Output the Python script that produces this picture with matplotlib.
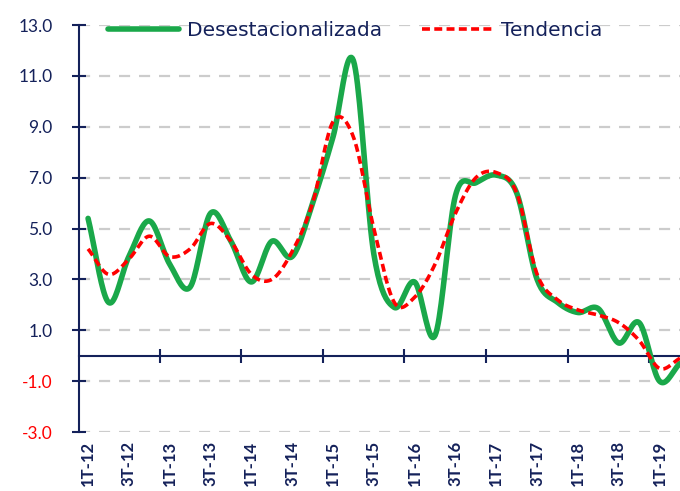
import numpy as np
import matplotlib
matplotlib.use("Agg")
import matplotlib.pyplot as plt

periods = ["1T-12","2T-12","3T-12","4T-12","1T-13","2T-13","3T-13","4T-13",
           "1T-14","2T-14","3T-14","4T-14","1T-15","2T-15","3T-15","4T-15",
           "1T-16","2T-16","3T-16","4T-16","1T-17","2T-17","3T-17","4T-17",
           "1T-18","2T-18","3T-18","4T-18","1T-19","2T-19"]
desest = [5.4, 2.1, 3.9, 5.3, 3.6, 2.7, 5.6, 4.5,
          2.9, 4.5, 3.9, 6.0, 8.6, 11.6, 4.0, 1.9,
          2.9, 0.8, 6.3, 6.8, 7.1, 6.4, 3.0, 2.1,
          1.7, 1.85, 0.5, 1.3, -1.0, -0.3]
tendencia = [4.2, 3.2, 3.8, 4.7, 3.9, 4.2, 5.2, 4.5,
             3.2, 3.0, 4.1, 6.0, 9.2, 8.6, 5.0, 2.1,
             2.3, 3.6, 5.6, 7.0, 7.2, 6.4, 3.2, 2.2,
             1.8, 1.6, 1.3, 0.6, -0.5, -0.1]
yticks = [-3, -1, 1, 3, 5, 7, 9, 11, 13]

NAVY = "#14215a"
GREEN = "#1aa84a"
RED = "#ff0000"

def smooth(y, n=20):
    y = np.asarray(y, float)
    x = np.arange(len(y), dtype=float)
    p = np.concatenate([[2*y[0]-y[1]], y, [2*y[-1]-y[-2]]])
    xs, ys = [], []
    for i in range(len(y)-1):
        p0, p1, p2, p3 = p[i], p[i+1], p[i+2], p[i+3]
        t = np.linspace(0, 1, n, endpoint=False)
        yy = 0.5*((2*p1) + (-p0+p2)*t + (2*p0-5*p1+4*p2-p3)*t**2 + (-p0+3*p1-3*p2+p3)*t**3)
        xs.append(x[i] + t)
        ys.append(yy)
    xs.append([x[-1]]); ys.append([y[-1]])
    return np.concatenate(xs), np.concatenate(ys)

plt.rcParams['font.family'] = ['Lato', 'DejaVu Sans']

fig = plt.figure(figsize=(6.8, 4.91), dpi=100)
ax = fig.add_axes([0.116, 0.12, 0.884, 0.829])
ymin, ymax = -3, 13
ax.set_ylim(ymin, ymax)
ax.set_xlim(-0.45, len(periods)-1)

for v in yticks:
    ax.axhline(v, color="#cccccc", lw=1.6, ls=(0, (5, 4)), zorder=0)

xg, yg = smooth(desest)
xr, yr = smooth(tendencia)
ax.plot(xg, yg, color=GREEN, lw=4, label="Desestacionalizada", solid_capstyle="round", zorder=3)
ax.plot(xr, yr, color=RED, lw=2.6, ls=(0, (2.2, 1.2)), label="Tendencia", zorder=4)

ax.set_yticks(yticks)
ax.set_yticklabels([f"{v:.1f}" for v in yticks], fontsize=12.5)
for lab, v in zip(ax.get_yticklabels(), yticks):
    lab.set_color(RED if v < 0 else NAVY)
ax.tick_params(axis="y", direction="inout", length=10, width=1.5, color=NAVY, pad=14)

ax.set_xticks(range(0, len(periods), 2))
ax.set_xticklabels(periods[::2], rotation=90, fontsize=12, fontweight="bold", color=NAVY)
ax.tick_params(axis="x", length=0, pad=6)

for s in ["top", "right", "bottom"]:
    ax.spines[s].set_visible(False)
ax.spines["left"].set_color(NAVY)
ax.spines["left"].set_linewidth(1.5)

sec = ax.secondary_xaxis((0 - ymin) / (ymax - ymin))
sec.set_xticks(np.arange(3.5, len(periods), 4))
sec.set_xticklabels([])
sec.tick_params(axis="x", direction="inout", length=10, width=1.5, color=NAVY)
sec.spines["bottom"].set_color(NAVY)
sec.spines["bottom"].set_linewidth(1.5)

leg = ax.legend(loc="upper center", bbox_to_anchor=(0.46, 1.055), ncol=2, frameon=False,
                prop={"family": "DejaVu Sans", "size": 14.5},
                handlelength=3.5, columnspacing=2.0, handletextpad=0.4)
for t in leg.get_texts():
    t.set_color(NAVY)

fig.savefig("out.png", dpi=100)
